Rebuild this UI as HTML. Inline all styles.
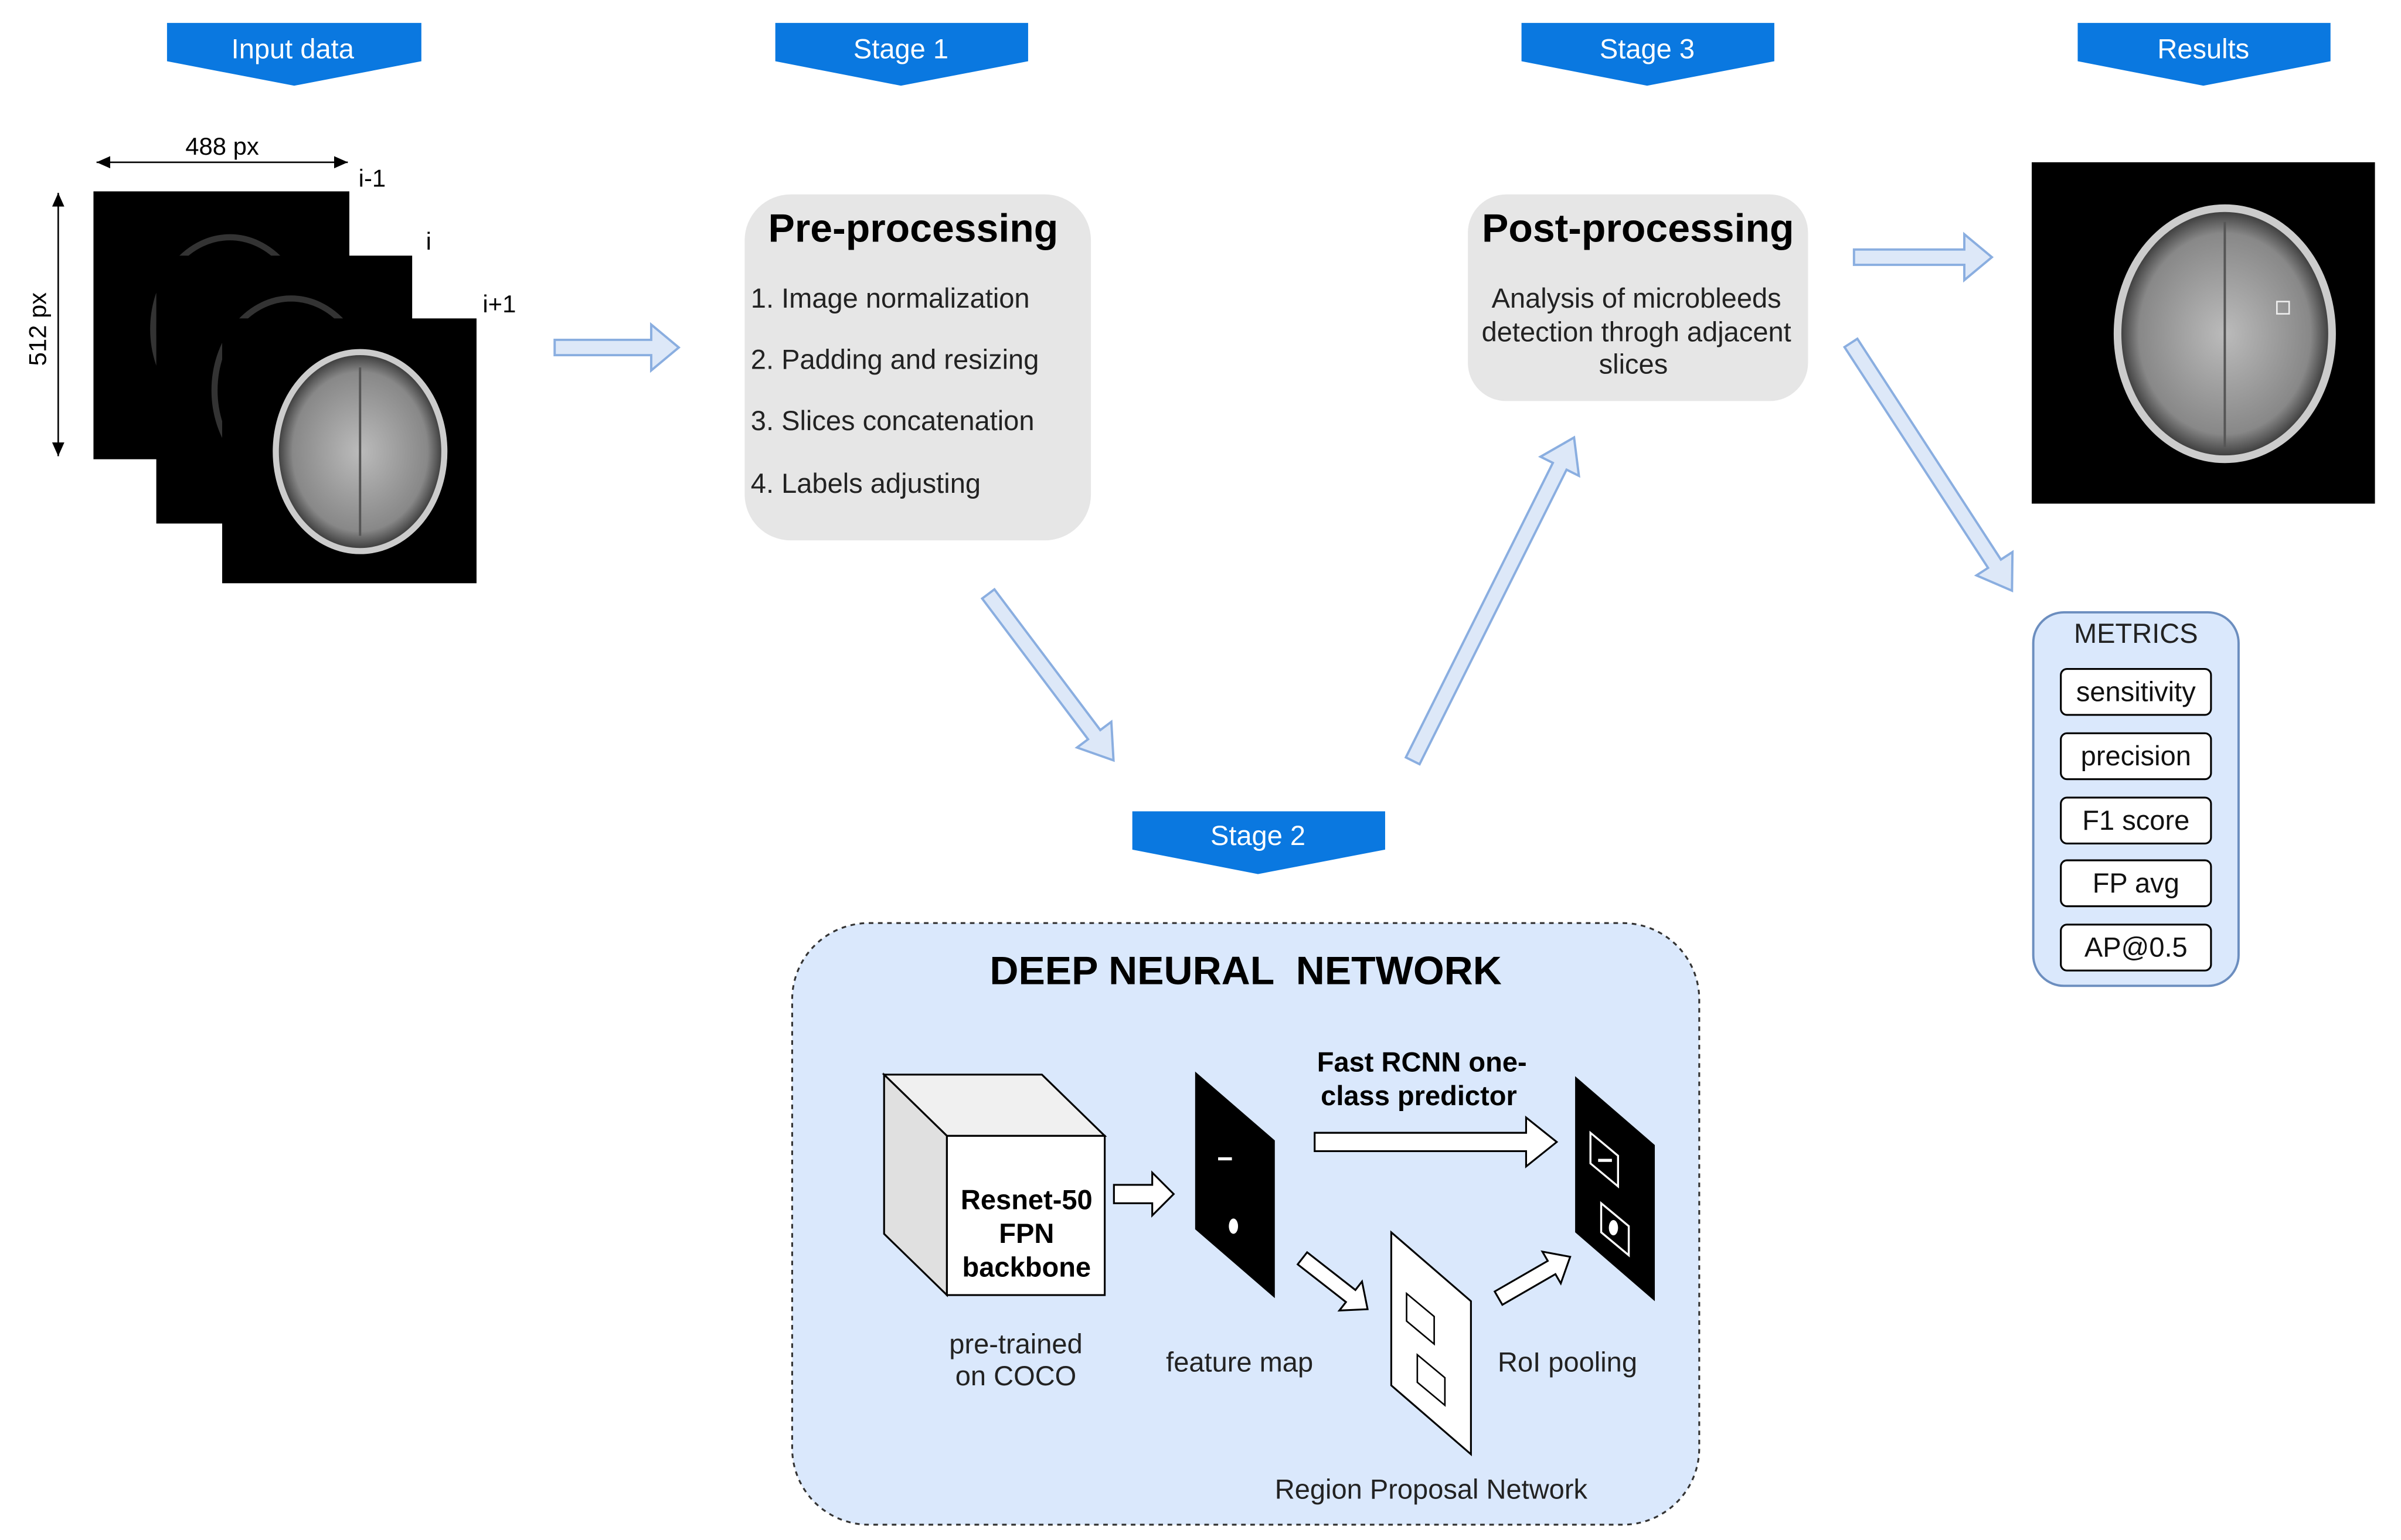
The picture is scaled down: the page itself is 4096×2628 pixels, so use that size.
<!DOCTYPE html>
<html><head><meta charset="utf-8"><style>html,body{margin:0;padding:0;background:#fff}svg{display:block}</style></head>
<body>
<svg width="4096" height="2628" viewBox="0 0 1567 1006" preserveAspectRatio="none" xmlns="http://www.w3.org/2000/svg" font-family="Liberation Sans, Arial, sans-serif">
<defs>
<marker id="ah" markerWidth="10" markerHeight="10" refX="9" refY="5" orient="auto-start-reverse" markerUnits="userSpaceOnUse"><path d="M0,1 L9,5 L0,9 Z" fill="#000"/></marker>
<radialGradient id="br" cx="50%" cy="50%" r="50%"><stop offset="0" stop-color="#bbb"/><stop offset="0.8" stop-color="#888"/><stop offset="1" stop-color="#333"/></radialGradient>
</defs>
<g fill="#0a78e0">
<polygon points="109,15 275,15 275,40 192,56 109,40"/>
<polygon points="506,15 671,15 671,40 588,56 506,40"/>
<polygon points="993,15 1158,15 1158,40 1075,56 993,40"/>
<polygon points="1356,15 1521,15 1521,40 1438,56 1356,40"/>
<polygon points="739,530 904,530 904,555 821,571 739,555"/>
</g>
<g fill="#fff" font-size="18" text-anchor="middle">
<text x="191" y="38">Input data</text><text x="588" y="38">Stage 1</text><text x="1075" y="38">Stage 3</text><text x="1438" y="38">Results</text><text x="821" y="552">Stage 2</text>
</g>
<rect x="61" y="125" width="167" height="175" fill="#000"/>
<ellipse cx="150" cy="215" rx="50" ry="60" fill="none" stroke="#333" stroke-width="4"/>
<rect x="102" y="167" width="167" height="175" fill="#000"/>
<ellipse cx="190" cy="255" rx="50" ry="60" fill="none" stroke="#333" stroke-width="4"/>
<rect x="145" y="208" width="166" height="173" fill="#000"/>
<ellipse cx="235" cy="295" rx="55" ry="65" fill="url(#br)" stroke="#ccc" stroke-width="4"/>
<line x1="235" y1="240" x2="235" y2="350" stroke="#555" stroke-width="1.5"/>
<g font-size="16" fill="#000"><text x="234" y="122">i-1</text><text x="278" y="163">i</text><text x="315" y="204">i+1</text>
<text x="145" y="101" text-anchor="middle">488 px</text>
<text transform="translate(30,215) rotate(-90)" text-anchor="middle">512 px</text></g>
<line x1="63" y1="106" x2="227" y2="106" stroke="#000" marker-start="url(#ah)" marker-end="url(#ah)"/>
<line x1="38" y1="126" x2="38" y2="298" stroke="#000" marker-start="url(#ah)" marker-end="url(#ah)"/>
<rect x="1326" y="106" width="224" height="223" fill="#000"/>
<ellipse cx="1452" cy="218" rx="70" ry="82" fill="url(#br)" stroke="#ccc" stroke-width="5"/>
<line x1="1452" y1="145" x2="1452" y2="292" stroke="#555" stroke-width="1.5"/>
<rect x="1486" y="197" width="8" height="8" fill="none" stroke="#eee"/>
<g fill="#dde8f8" stroke="#8aaee0" stroke-width="1.5">
<polygon points="362,222 425,222 425,212 443,227 425,242 425,232 362,232"/>
<g transform="translate(645,388) rotate(53.06)"><polygon points="0,-5 115,-5 115,-14 136,0 115,14 115,5 0,5"/></g>
<g transform="translate(922,497) rotate(-63.5)"><polygon points="0,-5 215,-5 215,-14 236,0 215,14 215,5 0,5"/></g>
<polygon points="1210,163 1282,163 1282,153 1300,168 1282,183 1282,173 1210,173"/>
<g transform="translate(1208,224) rotate(57)"><polygon points="0,-5 172,-5 172,-14 193,0 172,14 172,5 0,5"/></g>
</g>
<rect x="486" y="127" width="226" height="226" rx="30" fill="#e6e6e6"/>
<text x="596" y="158" font-size="26" font-weight="bold" text-anchor="middle">Pre-processing</text>
<g font-size="18" fill="#222"><text x="490" y="201">1. Image normalization</text><text x="490" y="241">2. Padding and resizing</text><text x="490" y="281">3. Slices concatenation</text><text x="490" y="322">4. Labels adjusting</text></g>
<rect x="958" y="127" width="222" height="135" rx="25" fill="#e6e6e6"/>
<text x="1069" y="158" font-size="26" font-weight="bold" text-anchor="middle">Post-processing</text>
<g font-size="18" fill="#222" text-anchor="middle"><text x="1068" y="201">Analysis of microbleeds</text><text x="1068" y="223">detection throgh adjacent</text><text x="1066" y="244">slices</text></g>
<rect x="1327" y="400" width="134" height="244" rx="20" fill="#dae8fc" stroke="#6c8ebf" stroke-width="1.5"/>
<text x="1394" y="420" font-size="18" text-anchor="middle" fill="#222">METRICS</text>
<g fill="#fff" stroke="#000" stroke-width="1.2">
<rect x="1345" y="437" width="98" height="30" rx="4"/><rect x="1345" y="479" width="98" height="30" rx="4"/><rect x="1345" y="521" width="98" height="30" rx="4"/><rect x="1345" y="562" width="98" height="30" rx="4"/><rect x="1345" y="604" width="98" height="30" rx="4"/></g>
<g font-size="18" text-anchor="middle" fill="#111"><text x="1394" y="458">sensitivity</text><text x="1394" y="500">precision</text><text x="1394" y="542">F1 score</text><text x="1394" y="583">FP avg</text><text x="1394" y="625">AP@0.5</text></g>
<rect x="517" y="603" width="592" height="393" rx="50" fill="#dae8fc" stroke="#333" stroke-width="1.2" stroke-dasharray="3,3"/>
<text x="813" y="643" font-size="26" font-weight="bold" text-anchor="middle" xml:space="preserve">DEEP NEURAL  NETWORK</text>
<g stroke="#000" stroke-width="1.2">
<polygon points="577,702 680,702 721,742 618,742" fill="#f0f0f0"/>
<polygon points="577,702 618,742 618,846 577,806" fill="#e0e0e0"/>
<rect x="618" y="742" width="103" height="104" fill="#fff"/>
</g>
<g font-size="18" font-weight="bold" text-anchor="middle"><text x="670" y="790">Resnet-50</text><text x="670" y="812">FPN</text><text x="670" y="834">backbone</text>
<text x="928" y="700">Fast RCNN one-</text><text x="926" y="722">class predictor</text></g>
<polygon points="780,700 832,745 832,848 780,803" fill="#000"/>
<rect x="795" y="756" width="9" height="2" fill="#fff"/><ellipse cx="805" cy="801" rx="3" ry="5" fill="#fff"/>
<polygon points="1028,703 1080,748 1080,850 1028,805" fill="#000"/>
<polygon points="1038,740 1056,755 1056,775 1038,760" fill="none" stroke="#fff" stroke-width="1.3"/>
<rect x="1043" y="757" width="9" height="2" fill="#fff"/>
<polygon points="1045,786 1063,801 1063,820 1045,805" fill="none" stroke="#fff" stroke-width="1.3"/>
<ellipse cx="1053" cy="802" rx="3" ry="5" fill="#fff"/>
<polygon points="908,805 960,850 960,950 908,905" fill="#fff" stroke="#000" stroke-width="1.2"/>
<polygon points="918,845 936,860 936,878 918,863" fill="none" stroke="#000"/>
<polygon points="925,885 943,900 943,918 925,903" fill="none" stroke="#000"/>
<g fill="#fff" stroke="#000" stroke-width="1.2">
<polygon points="727,774 752,774 752,766 766,780 752,794 752,786 727,786"/>
<polygon points="858,740 996,740 996,730 1016,746 996,762 996,752 858,752"/>
<g transform="translate(850,822) rotate(38)"><polygon points="0,-5 40,-5 40,-12 54,0 40,12 40,5 0,5"/></g>
<g transform="translate(978,848) rotate(-30)"><polygon points="0,-5 40,-5 40,-12 54,0 40,12 40,5 0,5"/></g>
</g>
<g font-size="18" text-anchor="middle" fill="#222"><text x="663" y="884">pre-trained</text><text x="663" y="905">on COCO</text><text x="809" y="896">feature map</text><text x="1023" y="896">RoI pooling</text><text x="934" y="979">Region Proposal Network</text></g>
</svg>
</body></html>
